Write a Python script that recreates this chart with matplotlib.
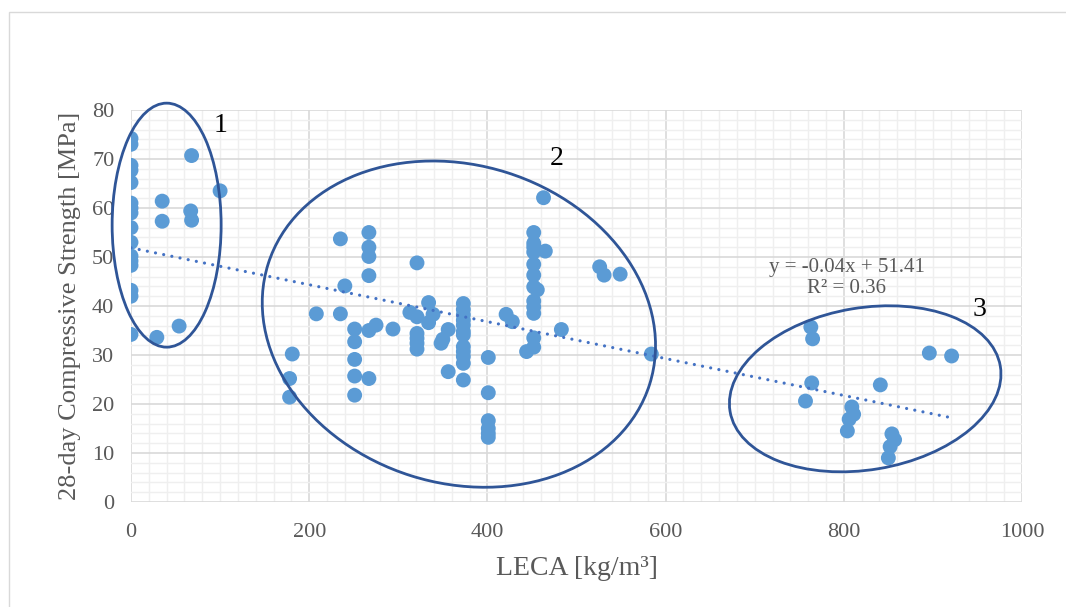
import numpy as np
import matplotlib
matplotlib.use("Agg")
import matplotlib.pyplot as plt
from matplotlib.patches import Ellipse, Rectangle
from matplotlib.transforms import ScaledTranslation
from matplotlib.ticker import MultipleLocator

# ---------------- data ----------------
leca = [0, 0, 0, 0, 0, 0, 0, 0, 0, 0, 0, 0, 0, 0, 0, 0,
        29, 54, 35, 35, 68, 67, 68, 100,
        178, 178, 181, 208, 235, 235, 240,
        251, 251, 251, 251, 251,
        267, 267, 267, 267, 267, 267, 275, 294, 313,
        321, 321, 321, 321, 321, 321,
        334, 334, 339, 348, 350, 356, 356,
        373, 373, 373, 373, 373, 373, 373, 373, 373, 373, 373, 373,
        401, 401, 401, 401, 401, 401,
        421, 428, 444,
        452, 452, 452, 452, 452, 452, 452, 452, 452, 452, 452, 452,
        465, 456, 463, 483, 526, 531, 549, 584,
        763, 765, 764, 757, 809, 811, 806, 804, 841, 854, 857, 852, 850, 896, 921]
strength = [74.2, 73.0, 68.7, 67.7, 65.2, 61.0, 60.0, 59.0, 56.0, 53.0, 50.2, 49.2, 48.3, 43.2, 42.0, 34.2,
            33.6, 35.9, 61.4, 57.3, 70.7, 59.4, 57.5, 63.5,
            21.4, 25.2, 30.2, 38.4, 38.4, 53.7, 44.1,
            35.3, 32.7, 29.1, 25.7, 21.8,
            55.0, 52.0, 50.1, 46.2, 35.0, 25.2, 36.1, 35.3, 38.7,
            48.8, 37.8, 34.4, 33.4, 32.4, 31.2,
            40.7, 36.6, 38.3, 32.4, 33.2, 35.2, 26.6,
            40.5, 39.3, 38.2, 37.1, 36.1, 34.8, 34.1, 31.7, 30.7, 29.7, 28.3, 24.9,
            29.5, 22.3, 16.6, 15.0, 14.0, 13.2,
            38.3, 36.8, 30.7,
            55.0, 52.8, 52.0, 51.0, 48.5, 46.3, 43.9, 41.0, 39.8, 38.5, 33.5, 31.6,
            51.2, 43.3, 62.1, 35.2, 48.0, 46.3, 46.5, 30.2,
            35.7, 33.3, 24.3, 20.6, 19.4, 17.9, 16.9, 14.5, 23.9, 13.9, 12.7, 11.3, 9.0, 30.4, 29.8]

x_ticks = [0, 200, 400, 600, 800, 1000]
y_ticks = [0, 10, 20, 30, 40, 50, 60, 70, 80]
x_label = "LECA [kg/m\u00b3]"
y_label = "28-day Compressive Strength [MPa]"
equation_text = "y = -0.04x + 51.41\nR\u00b2 = 0.36"

# group outlines: label, centre (data), semi-axes (px), screen angle (deg)
group_labels = ["1", "2", "3"]
group_centres = [(40, 56.5), (368, 36.3), (824, 23.1)]
group_axes_px = [(54.5, 122), (200, 159), (137, 81)]
group_angles = [0, -17.5, 9.5]
group_label_pos = [(101, 76.9), (478, 70.2), (952, 39.2)]
equation_pos = (803, 45.8)

# ---------------- figure ----------------
W, H, DPI = 1066, 607, 100
plt.rcParams['font.family'] = ['Liberation Serif', 'DejaVu Serif']
fig = plt.figure(figsize=(W / DPI, H / DPI), dpi=DPI)
fig.patch.set_facecolor('white')

# chart border (only top and left edges fall inside the image)
fig.add_artist(Rectangle((9 / W, -0.05), (W + 40) / W, (H - 11.5) / H + 0.05,
                         transform=fig.transFigure, fill=False,
                         edgecolor='#D9D9D9', linewidth=1.0))

ax = fig.add_axes([131 / W, 105 / H, 891 / W, 392 / H])
ax.set_xlim(0, 1000)
ax.set_ylim(0, 80)
ax.xaxis.set_major_locator(MultipleLocator(200))
ax.xaxis.set_minor_locator(MultipleLocator(20))
ax.yaxis.set_major_locator(MultipleLocator(10))
ax.yaxis.set_minor_locator(MultipleLocator(2))
ax.set_xticks(x_ticks)
ax.set_yticks(y_ticks)
ax.grid(which='minor', color='#EFEFEF', linewidth=1.0, zorder=0)
ax.grid(which='major', color='#D9D9D9', linewidth=1.2, zorder=0)
ax.set_axisbelow(True)
for s in ax.spines.values():
    s.set_visible(False)
ax.tick_params(which='both', length=0, labelsize=16, labelcolor='#595959')
ax.tick_params(axis='x', pad=15)
ax.tick_params(axis='y', pad=12)

ax.scatter(leca, strength, s=115, color='#5B9BD5', edgecolors='none', zorder=3)

# linear trendline (least squares, like Excel)
slope, intercept = np.polyfit(leca, strength, 1)
xt = np.array([min(leca), max(leca)])
ax.plot(xt, slope * xt + intercept, color='#4472C4', linewidth=2.3,
        linestyle=(0, (0.01, 2.6)), dash_capstyle='round', zorder=4)

# group ellipses (drawn in screen pixels around a data-space centre)
for (cx, cy), (a, b), ang in zip(group_centres, group_axes_px, group_angles):
    tr = fig.dpi_scale_trans + ScaledTranslation(cx, cy, ax.transData)
    ax.add_patch(Ellipse((0, 0), 2 * a / DPI, 2 * b / DPI, angle=ang,
                         transform=tr, fill=False, edgecolor='#2F5597',
                         linewidth=2.0, zorder=5, clip_on=False))

for lab, (tx, ty) in zip(group_labels, group_label_pos):
    ax.text(tx, ty, lab, fontsize=20, color='black', ha='center', va='center', zorder=6)

ax.text(equation_pos[0], equation_pos[1], equation_text, fontsize=15, color='#595959',
        ha='center', va='center', linespacing=1.15, zorder=6)

ax.set_xlabel(x_label, fontsize=20, color='#595959', labelpad=10)
ax.set_ylabel(y_label, fontsize=19, color='#595959', labelpad=8)

fig.savefig('out.png', dpi=DPI, facecolor='white')
